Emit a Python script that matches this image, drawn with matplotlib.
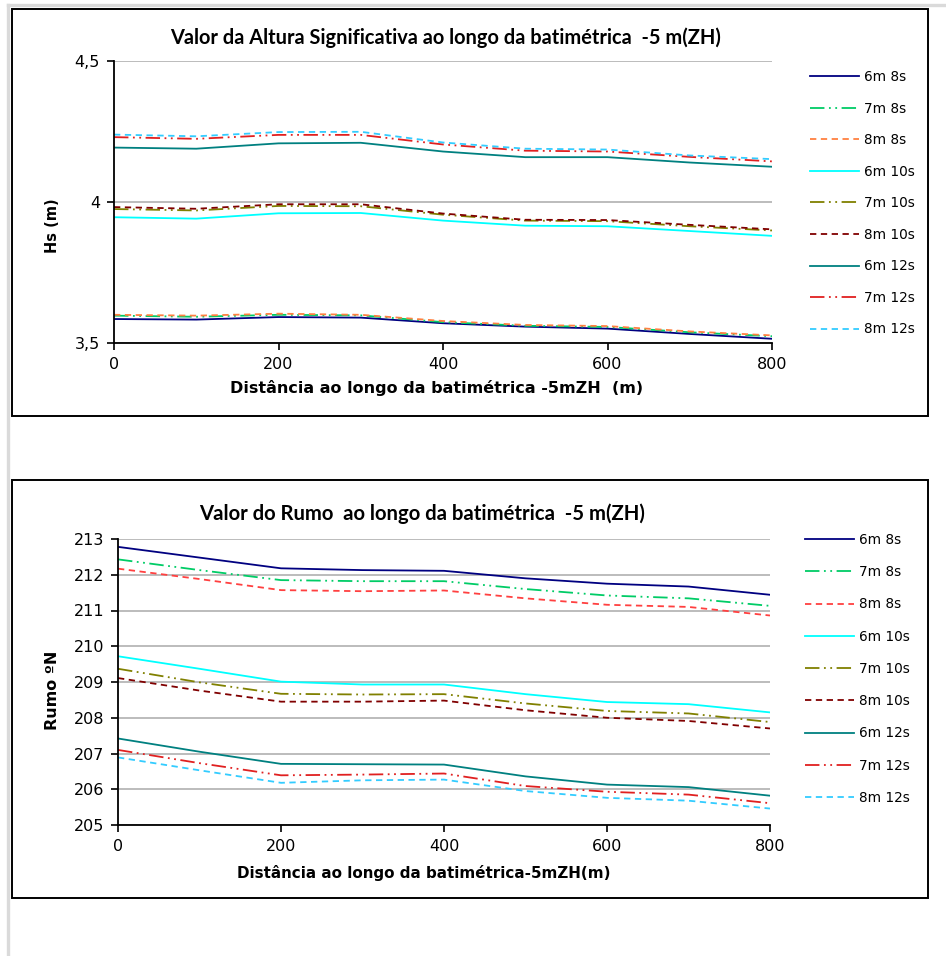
import matplotlib
matplotlib.use("Agg")
import matplotlib.pyplot as plt
from matplotlib.lines import Line2D
from matplotlib.patches import Rectangle

# ---------------- data ----------------
dist = [0, 100, 200, 300, 400, 500, 600, 700, 800]
labels = ["6m 8s", "7m 8s", "8m 8s", "6m 10s", "7m 10s", "8m 10s", "6m 12s", "7m 12s", "8m 12s"]

hs_6m8s = [3.585, 3.583, 3.592, 3.590, 3.570, 3.558, 3.551, 3.532, 3.515]
hs_7m8s = [3.597, 3.593, 3.600, 3.598, 3.574, 3.561, 3.557, 3.538, 3.524]
hs_8m8s = [3.600, 3.597, 3.604, 3.600, 3.578, 3.564, 3.560, 3.541, 3.527]
hs_6m10s = [3.946, 3.941, 3.960, 3.961, 3.934, 3.916, 3.914, 3.897, 3.880]
hs_7m10s = [3.975, 3.970, 3.986, 3.985, 3.955, 3.934, 3.932, 3.914, 3.899]
hs_8m10s = [3.982, 3.976, 3.992, 3.992, 3.959, 3.937, 3.936, 3.919, 3.903]
hs_6m12s = [4.193, 4.189, 4.208, 4.210, 4.179, 4.159, 4.159, 4.140, 4.125]
hs_7m12s = [4.230, 4.224, 4.238, 4.238, 4.204, 4.182, 4.179, 4.160, 4.144]
hs_8m12s = [4.239, 4.233, 4.248, 4.249, 4.211, 4.189, 4.186, 4.165, 4.152]

rumo_6m8s = [212.78, 212.48, 212.18, 212.13, 212.11, 211.90, 211.75, 211.67, 211.44]
rumo_7m8s = [212.43, 212.13, 211.85, 211.82, 211.82, 211.60, 211.42, 211.34, 211.13]
rumo_8m8s = [212.17, 211.88, 211.57, 211.54, 211.56, 211.34, 211.16, 211.10, 210.86]
rumo_6m10s = [209.72, 209.37, 209.01, 208.93, 208.93, 208.66, 208.44, 208.38, 208.15]
rumo_7m10s = [209.37, 208.99, 208.67, 208.65, 208.66, 208.40, 208.19, 208.12, 207.88]
rumo_8m10s = [209.11, 208.76, 208.45, 208.45, 208.48, 208.21, 208.00, 207.91, 207.70]
rumo_6m12s = [207.42, 207.05, 206.71, 206.70, 206.69, 206.36, 206.13, 206.06, 205.82]
rumo_7m12s = [207.10, 206.73, 206.39, 206.41, 206.44, 206.09, 205.93, 205.85, 205.61]
rumo_8m12s = [206.89, 206.53, 206.18, 206.25, 206.27, 205.95, 205.76, 205.68, 205.46]

hs_series = [hs_6m8s, hs_7m8s, hs_8m8s, hs_6m10s, hs_7m10s, hs_8m10s, hs_6m12s, hs_7m12s, hs_8m12s]
rumo_series = [rumo_6m8s, rumo_7m8s, rumo_8m8s, rumo_6m10s, rumo_7m10s, rumo_8m10s,
               rumo_6m12s, rumo_7m12s, rumo_8m12s]

hs_ticks = [3.5, 4.0, 4.5]
hs_ticklabels = ["3,5", "4", "4,5"]
rumo_ticks = [205, 206, 207, 208, 209, 210, 211, 212, 213]
x_ticks = [0, 200, 400, 600, 800]

# ---------------- styles ----------------
DASH = (0, (3.5, 2.5))
DDOT = (0, (8, 2.5, 1, 2.5, 1, 2.5))
colors_top = ["#000080", "#00CC66", "#FF8040", "#00FFFF", "#808000", "#800000",
              "#008080", "#E02020", "#33CCFF"]
colors_bot = ["#000080", "#00CC66", "#FF4040", "#00FFFF", "#808000", "#800000",
              "#008080", "#E02020", "#33CCFF"]
styles = ["-", DDOT, DASH, "-", DDOT, DASH, "-", DDOT, DASH]

W, H = 946, 956
fig = plt.figure(figsize=(W / 100, H / 100), dpi=100)

def fx(px):
    return px / W

def fy(py):
    return 1 - py / H

# page lines and chart frames
fig.add_artist(Line2D([fx(8), fx(8)], [fy(5), 0], color="#dadada", lw=2.4, transform=fig.transFigure))
fig.add_artist(Line2D([fx(8), 1], [fy(5), fy(5)], color="#dadada", lw=2.4, transform=fig.transFigure))
for (y0, y1) in [(9, 416), (480, 898)]:
    fig.add_artist(Rectangle((fx(12), fy(y1)), fx(928) - fx(12), fy(y0) - fy(y1),
                             transform=fig.transFigure, fill=False, ec="black", lw=1.4))

title_font = ["Lato", "Liberation Sans", "DejaVu Sans"]
reg_font = ["DejaVu Sans"]

def style_ax(ax, yt, ytl, ylim):
    ax.set_xlim(0, 800)
    ax.set_ylim(*ylim)
    ax.set_xticks(x_ticks)
    ax.set_xticklabels([str(v) for v in x_ticks], family=reg_font, fontsize=11.5)
    ax.set_yticks(yt)
    ax.set_yticklabels(ytl, family=reg_font, fontsize=11.5)
    ax.spines["top"].set_visible(False)
    ax.spines["right"].set_visible(False)
    ax.spines["left"].set_linewidth(1.3)
    ax.spines["bottom"].set_linewidth(1.3)
    ax.tick_params(axis="both", direction="out", length=5, width=1.2, pad=5)
    ax.grid(axis="y", color="#b0b0b0", lw=1.2)
    ax.set_axisbelow(True)

# ---------------- top chart ----------------
ax1 = fig.add_axes([fx(114), fy(343), fx(772) - fx(114), fy(61) - fy(343)])
for s, c, ls, lab in zip(hs_series, colors_top, styles, labels):
    ax1.plot(dist, s, color=c, ls=ls, lw=1.3, label=lab)
style_ax(ax1, hs_ticks, hs_ticklabels, (3.5, 4.5))
fig.text(fx(446), fy(38), "Valor da Altura Significativa ao longo da batimétrica  -5 m(ZH)",
         ha="center", va="center", fontsize=14.4, fontweight="bold", family=title_font)
fig.text(fx(437), fy(388), "Distância ao longo da batimétrica -5mZH  (m)",
         ha="center", va="center", fontsize=11.5, fontweight="bold", family=reg_font)
fig.text(fx(52), fy(226), "Hs (m)", ha="center", va="center", rotation=90,
         fontsize=10.5, fontweight="bold", family=reg_font)
ax1.legend(loc="upper left", bbox_to_anchor=(fx(810), fy(70)), bbox_transform=fig.transFigure,
           frameon=False, prop={"family": reg_font, "size": 9.8}, handlelength=3.6,
           handletextpad=0.35, labelspacing=1.29, borderpad=0, borderaxespad=0)

# ---------------- bottom chart ----------------
ax2 = fig.add_axes([fx(118), fy(825), fx(770) - fx(118), fy(539) - fy(825)])
for s, c, ls, lab in zip(rumo_series, colors_bot, styles, labels):
    ax2.plot(dist, s, color=c, ls=ls, lw=1.3, label=lab)
style_ax(ax2, rumo_ticks, [str(v) for v in rumo_ticks], (205, 213))
fig.text(fx(422), fy(514), "Valor do Rumo  ao longo da batimétrica  -5 m(ZH)",
         ha="center", va="center", fontsize=14.6, fontweight="bold", family=title_font)
fig.text(fx(424), fy(873), "Distância ao longo da batimétrica-5mZH(m)",
         ha="center", va="center", fontsize=10.9, fontweight="bold", family=reg_font)
fig.text(fx(52), fy(690), "Rumo ºN", ha="center", va="center", rotation=90,
         fontsize=11.5, fontweight="bold", family=reg_font)
ax2.legend(loc="upper left", bbox_to_anchor=(fx(805), fy(533)), bbox_transform=fig.transFigure,
           frameon=False, prop={"family": reg_font, "size": 9.8}, handlelength=3.6,
           handletextpad=0.35, labelspacing=1.34, borderpad=0, borderaxespad=0)

fig.savefig("out.png", dpi=100)
